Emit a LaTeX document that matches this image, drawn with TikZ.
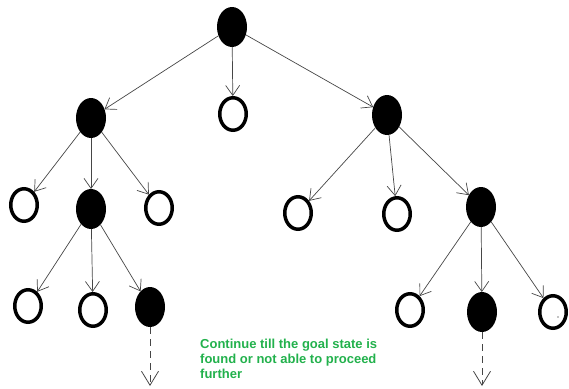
\documentclass[tikz,border=0pt]{standalone}
\usepackage{fontspec}
\setmainfont{Liberation Sans}
\usetikzlibrary{shapes.geometric,arrows.meta}
\definecolor{notegreen}{RGB}{34,177,76}
\definecolor{edgegray}{RGB}{70,70,70}
\tikzset{
  fullnode/.style={ellipse,fill=black,draw=none,minimum width=30pt,minimum height=40pt,inner sep=0pt,outer sep=0pt},
  opennode/.style={ellipse,draw=black,line width=3.5pt,fill=white,minimum width=26.5pt,minimum height=32.5pt,inner sep=0pt},
  edge/.style={draw=edgegray,line width=0.7pt,-{Straight Barb[length=10pt,width=14pt,line width=0.7pt]}},
  goon/.style={draw=edgegray,line width=0.8pt,dash pattern=on 7pt off 5pt,-{Straight Barb[length=14pt,width=17pt,line width=0.8pt]}},
}
\begin{document}
\begin{tikzpicture}[x=1pt,y=-1pt]
\useasboundingbox (0,0) rectangle (569,388);
% level 0
\node[fullnode] (r) at (232,27) {};
% level 1
\node[fullnode] (a) at (91,118) {};
\node[opennode] (b) at (233,114) {};
\node[fullnode] (c) at (387,115) {};
% level 2
\node[opennode] (a1) at (24,205) {};
\node[fullnode] (a2) at (91,209) {};
\node[opennode] (a3) at (159,208) {};
\node[opennode] (c1) at (298,213) {};
\node[opennode] (c2) at (397,214) {};
\node[fullnode] (c3) at (481,207) {};
% level 3
\node[opennode] (a21) at (28,306) {};
\node[opennode] (a22) at (93,310) {};
\node[fullnode] (a23) at (150,307) {};
\node[opennode] (c31) at (410,310) {};
\node[fullnode] (c32) at (482,312) {};
\node[opennode] (c33) at (553,312) {};
\fill (558,317) circle (0.7);
% open-ended continuations
\coordinate (a23end) at (150,386);
\coordinate (c32end) at (482,386);
% connectors
\draw[edge] (r) -- (a);
\draw[edge] (r) -- (b);
\draw[edge] (r) -- (c);
\draw[edge] (a) -- (a1);
\draw[edge] (a) -- (a2);
\draw[edge] (a) -- (a3);
\draw[edge] (c) -- (c1);
\draw[edge] (c) -- (c2);
\draw[edge] (c) -- (c3);
\draw[edge] (a2) -- (a21);
\draw[edge] (a2) -- (a22);
\draw[edge] (a2) -- (a23);
\draw[edge] (c3) -- (c31);
\draw[edge] (c3) -- (c32);
\draw[edge] (c3) -- (c33);
\draw[goon] (a23) -- (a23end);
\draw[goon] (c32) -- (c32end);
% note
\node[anchor=north west,align=left,text=notegreen,font=\bfseries\fontsize{13}{15}\selectfont,inner sep=0pt] (note) at (200,339)
  {Continue till the goal state is\\found or not able to proceed\\further};
\end{tikzpicture}
\end{document}
